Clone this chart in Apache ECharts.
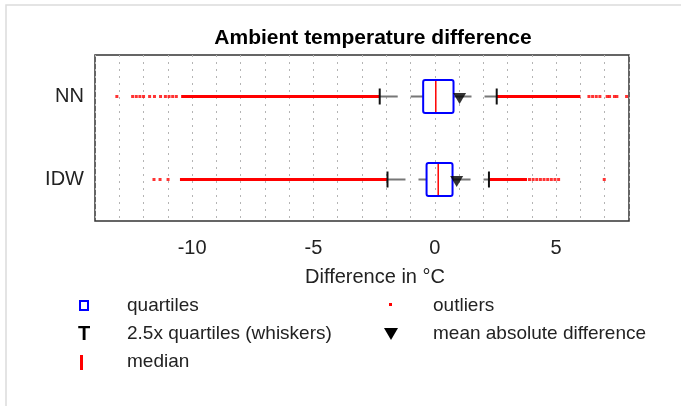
<!DOCTYPE html>
<html>
<head>
<meta charset="utf-8">
<title>Ambient temperature difference</title>
<script src="https://cdn.jsdelivr.net/npm/echarts@6/dist/echarts.min.js"></script>
<style>
  html, body { margin: 0; padding: 0; background: #fff; }
  #chart { width: 681px; height: 406px; }
</style>
</head>
<body>
<div id="chart"></div>
<script>
// values (°C)
const methods = ['NN', 'IDW'];
const lowerQuartile = [-0.48, -0.34];
const medianDiff = [0.04, 0.14];
const upperQuartile = [0.77, 0.73];
const lowerWhisker = [-2.27, -1.95];
const upperWhisker = [2.55, 2.23];
const meanAbsDiff = [1.02, 0.9];
const xTicks = [-10, -5, 0, 5];

// outliers so dense they merge into a solid line: [from, to]
const denseOutliersNN = [[-10.45, -2.27], [2.55, 6.0]];
const denseOutliersIDW = [[-10.5, -1.95], [2.23, 3.8]];
// single outliers that are still visible on their own
const sparseOutliersNN = [-13.1, -12.45, -12.3, -12.15, -12.0, -11.75, -11.55, -11.3, -11.1, -10.95, -10.8, -10.65,
  6.35, 6.5, 6.65, 6.8, 7.1, 7.2, 7.4, 7.5, 7.9];
const sparseOutliersIDW = [-11.57, -11.32, -10.99, 3.9, 4.05, 4.2, 4.35, 4.5, 4.65, 4.8, 4.95, 5.1, 6.98];

const FONT = 'Liberation Sans, Arial, Helvetica, sans-serif';
const chart = echarts.init(document.getElementById('chart'), null, { renderer: 'canvas' });

const bandData = [];
denseOutliersNN.forEach(function (r) { bandData.push([r[0], r[1], 0]); });
denseOutliersIDW.forEach(function (r) { bandData.push([r[0], r[1], 1]); });

const pointData = [];
sparseOutliersNN.forEach(function (v) { pointData.push([v, 0]); });
sparseOutliersIDW.forEach(function (v) { pointData.push([v, 1]); });

const boxData = methods.map(function (m, i) {
  return [lowerQuartile[i], medianDiff[i], upperQuartile[i], lowerWhisker[i], upperWhisker[i], i];
});

function renderBand(params, api) {
  const a = api.coord([api.value(0), api.value(2)]);
  const b = api.coord([api.value(1), api.value(2)]);
  return {
    type: 'rect',
    shape: { x: a[0], y: a[1] - 1.5, width: b[0] - a[0], height: 3 },
    style: { fill: '#ff0000' }
  };
}

function renderBox(params, api) {
  const i = api.value(5);
  const band = api.size([0, 1])[1];
  const h = band * 0.4;
  const q1 = api.coord([api.value(0), i]);
  const md = api.coord([api.value(1), i]);
  const q3 = api.coord([api.value(2), i]);
  const wl = api.coord([api.value(3), i]);
  const wh = api.coord([api.value(4), i]);
  const y = q1[1];
  const dash = { stroke: '#777', lineWidth: 2, lineDash: [18, 13] };
  return {
    type: 'group',
    children: [
      { type: 'line', shape: { x1: wl[0], y1: y, x2: q1[0], y2: y }, style: dash },
      { type: 'line', shape: { x1: q3[0], y1: y, x2: wh[0], y2: y }, style: dash },
      { type: 'line', shape: { x1: wl[0], y1: y - 8, x2: wl[0], y2: y + 8 }, style: { stroke: '#111', lineWidth: 2 } },
      { type: 'line', shape: { x1: wh[0], y1: y - 8, x2: wh[0], y2: y + 8 }, style: { stroke: '#111', lineWidth: 2 } },
      { type: 'rect', shape: { x: q1[0], y: y - h / 2, width: q3[0] - q1[0], height: h, r: 2 },
        style: { fill: 'rgba(255,255,255,0)', stroke: '#0000ff', lineWidth: 2 } },
      { type: 'line', shape: { x1: md[0], y1: y - h / 2 + 1, x2: md[0], y2: y + h / 2 - 1 },
        style: { stroke: '#ff0000', lineWidth: 1.5 } }
    ]
  };
}

const option = {
  backgroundColor: '#fff',
  animation: false,
  textStyle: { fontFamily: FONT },
  grid: { left: 95, right: 52, top: 55, bottom: 185, show: true, borderColor: '#333', borderWidth: 1.5 },
  xAxis: [
    {
      type: 'value', min: -14, max: 8, interval: 1,
      axisLine: { show: false },
      axisTick: { inside: true, length: 4, customValues: xTicks, lineStyle: { color: '#333' } },
      axisLabel: { customValues: xTicks, fontSize: 20, color: '#222', margin: 17, fontFamily: FONT },
      splitLine: { show: false },
      name: 'Difference in °C', nameLocation: 'middle', nameGap: 46,
      nameTextStyle: { fontSize: 20, color: '#222', fontFamily: FONT, padding: [0, 0, 0, 26] }
    },
    {
      type: 'value', min: -14, max: 8, interval: 1, position: 'top',
      axisLine: { show: false },
      axisTick: { inside: true, length: 4, customValues: xTicks, lineStyle: { color: '#333' } },
      axisLabel: { show: false },
      splitLine: { show: false }
    },
    {
      // dotted grid at every degree
      type: 'value', min: -14, max: 8, interval: 1, show: true,
      axisLine: { show: false }, axisTick: { show: false }, axisLabel: { show: false },
      splitLine: { show: true, lineStyle: { color: '#b4b4b4', width: 1, type: [2, 5] } }
    }
  ],
  yAxis: [
    {
      type: 'category', data: methods, inverse: true,
      axisLine: { show: false },
      axisTick: { inside: true, length: 4, alignWithLabel: true, lineStyle: { color: '#333' } },
      axisLabel: { fontSize: 20, color: '#222', margin: 11, fontFamily: FONT },
      splitLine: { show: false }
    },
    {
      type: 'category', data: methods, inverse: true, position: 'right',
      axisLine: { show: false },
      axisTick: { inside: true, length: 4, alignWithLabel: true, lineStyle: { color: '#333' } },
      axisLabel: { show: false },
      splitLine: { show: false }
    }
  ],
  series: [
    {
      name: 'outliers', type: 'custom', renderItem: renderBand, data: bandData,
      encode: { x: [0, 1], y: 2 }, z: 2
    },
    {
      name: 'outliers', type: 'scatter', data: pointData, symbol: 'rect', symbolSize: 3,
      itemStyle: { color: '#ff0000' }, z: 2
    },
    {
      name: 'quartiles', type: 'custom', renderItem: renderBox, data: boxData,
      encode: { x: [0, 1, 2, 3, 4], y: 5 }, z: 3
    },
    {
      name: 'mean absolute difference', type: 'scatter',
      data: meanAbsDiff.map(function (v, i) { return [v, i]; }),
      symbol: 'triangle', symbolRotate: 180, symbolSize: [13, 11], symbolOffset: [0, 2],
      itemStyle: { color: '#000' }, z: 4
    }
  ],
  graphic: [
    { type: 'rect', silent: true, shape: { x: 6, y: 5, width: 720, height: 440 },
      style: { fill: 'none', stroke: '#dcdcdc', lineWidth: 1.5 } },
    { type: 'text', x: 373, y: 38, style: { text: 'Ambient temperature difference', fontFamily: FONT,
      fontSize: 21, fontWeight: 'bold', fill: '#000', align: 'center', verticalAlign: 'middle' } },
    // legend
    { type: 'rect', shape: { x: 80, y: 301, width: 8, height: 9 }, style: { fill: 'none', stroke: '#0000ff', lineWidth: 2 } },
    { type: 'text', x: 84, y: 334, style: { text: 'T', fontFamily: FONT, fontSize: 20, fontWeight: 'bold',
      fill: '#000', align: 'center', verticalAlign: 'middle' } },
    { type: 'rect', shape: { x: 80, y: 355, width: 3, height: 15 }, style: { fill: '#ff0000' } },
    { type: 'text', x: 127, y: 306, style: { text: 'quartiles', fontFamily: FONT, fontSize: 19, fill: '#222', verticalAlign: 'middle' } },
    { type: 'text', x: 127, y: 334, style: { text: '2.5x quartiles (whiskers)', fontFamily: FONT, fontSize: 19, fill: '#222', verticalAlign: 'middle' } },
    { type: 'text', x: 127, y: 362, style: { text: 'median', fontFamily: FONT, fontSize: 19, fill: '#222', verticalAlign: 'middle' } },
    { type: 'rect', shape: { x: 389, y: 303, width: 3, height: 3 }, style: { fill: '#ff0000' } },
    { type: 'polygon', shape: { points: [[384, 328], [398, 328], [391, 340]] }, style: { fill: '#000' } },
    { type: 'text', x: 433, y: 306, style: { text: 'outliers', fontFamily: FONT, fontSize: 19, fill: '#222', verticalAlign: 'middle' } },
    { type: 'text', x: 433, y: 334, style: { text: 'mean absolute difference', fontFamily: FONT, fontSize: 19, fill: '#222', verticalAlign: 'middle' } }
  ]
};

chart.setOption(option);
</script>
</body>
</html>
